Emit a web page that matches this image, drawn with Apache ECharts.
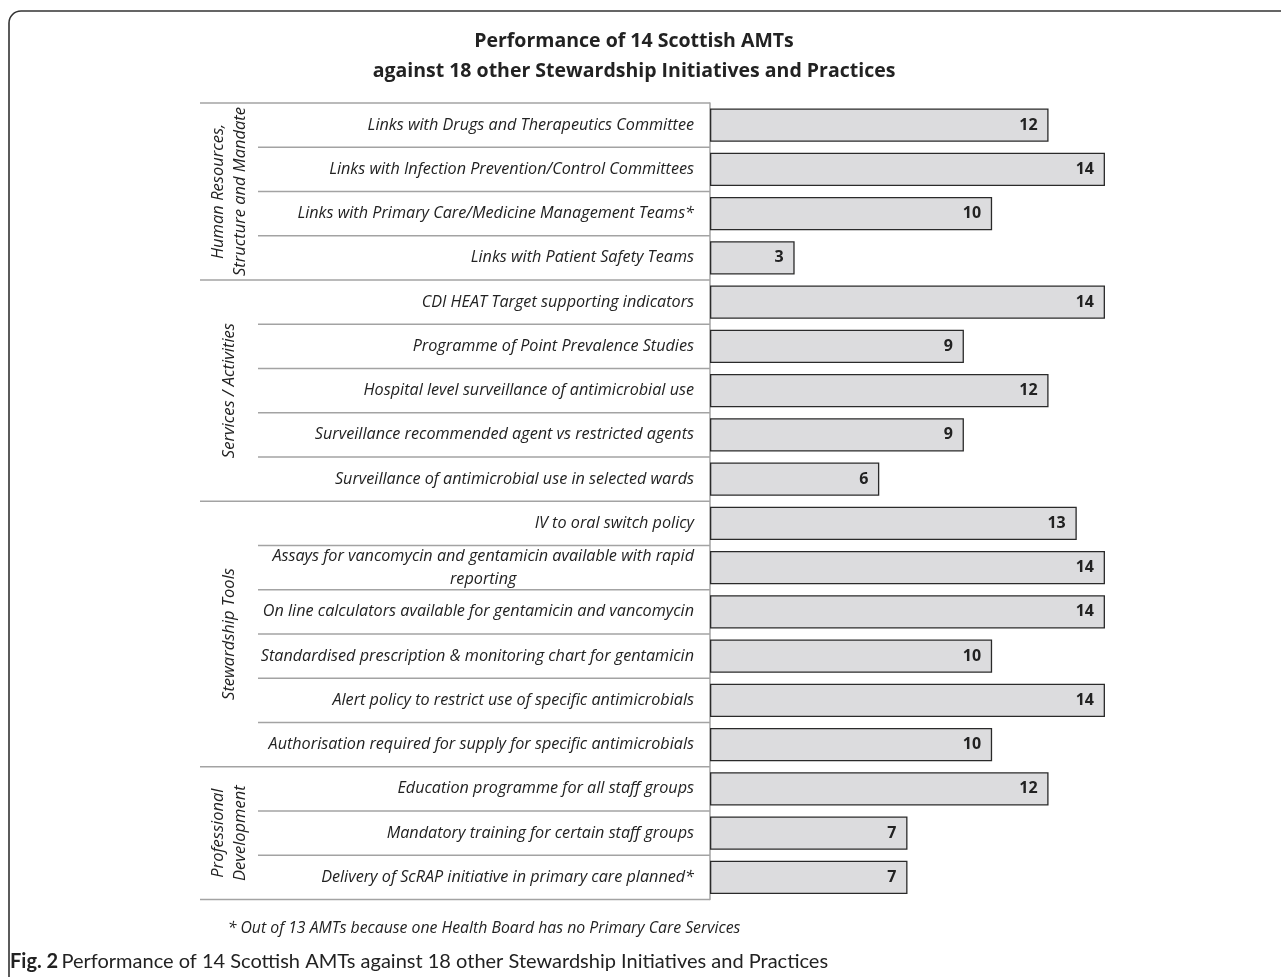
<!DOCTYPE html>
<html><head><meta charset="utf-8">
<script src="https://cdn.jsdelivr.net/npm/echarts@6/dist/echarts.min.js"></script>
<style>html,body{margin:0;padding:0;background:#fff}#c{width:1281px;height:977px}</style>
</head><body><div id="c"></div>
<script>
const categories = [
  'Links with Drugs and Therapeutics Committee',
  'Links with Infection Prevention/Control Committees',
  'Links with Primary Care/Medicine Management Teams*',
  'Links with Patient Safety Teams',
  'CDI HEAT Target supporting indicators',
  'Programme of Point Prevalence Studies',
  'Hospital level surveillance of antimicrobial use',
  'Surveillance recommended agent vs restricted agents',
  'Surveillance of antimicrobial use in selected wards',
  'IV to oral switch policy',
  'Assays for vancomycin and gentamicin available with rapid\nreporting',
  'On line calculators available for gentamicin and vancomycin',
  'Standardised prescription & monitoring chart for gentamicin',
  'Alert policy to restrict use of specific antimicrobials',
  'Authorisation required for supply for specific antimicrobials',
  'Education programme for all staff groups',
  'Mandatory training for certain staff groups',
  'Delivery of ScRAP initiative in primary care planned*'
];
const values = [12, 14, 10, 3, 14, 9, 12, 9, 6, 13, 14, 14, 10, 14, 10, 12, 7, 7];
const groupNames = [
  'Human Resources,\nStructure and Mandate',
  'Services / Activities',
  'Stewardship Tools',
  'Professional\nDevelopment'
];
const groupSizes = [4, 5, 6, 3];
const titleText = 'Performance of 14 Scottish AMTs\nagainst 18 other Stewardship Initiatives and Practices';
const footnote = '* Out of 13 AMTs because one Health Board has no Primary Care Services';
const captionBold = 'Fig. 2';
const captionText = 'Performance of 14 Scottish AMTs against 18 other Stewardship Initiatives and Practices';

const FONT = 'Open Sans';
const CAPFONT = 'Lato';
const LINE = '#a3a3a3';

// group ranges
const groupData = [];
let start = 0;
groupSizes.forEach((n, i) => { groupData.push({ value: [0, start, start + n - 1, i] }); start += n; });
const groupStarts = new Set(groupData.map(g => g.value[1]));
const sepData = categories.map((c, i) => ({ value: [0, i, groupStarts.has(i) ? 1 : 0, 0] }));
sepData.push({ value: [0, categories.length - 1, 1, 1] });

const chart = echarts.init(document.getElementById('c'), null, { renderer: 'canvas' });

const labelStyle = { fontFamily: FONT, fontStyle: 'italic', fontSize: 16.2, color: '#222', lineHeight: 23 };

chart.setOption({
  animation: false,
  backgroundColor: '#fff',
  title: {
    text: titleText,
    left: 629,
    textAlign: 'center',
    top: 21,
    textStyle: { fontFamily: FONT, fontWeight: 'bold', fontSize: 19.5, lineHeight: 30, color: '#222' }
  },
  grid: { left: 710, top: 103, bottom: 77.5, right: 119.6, containLabel: false },
  xAxis: { type: 'value', min: 0, max: 16, show: false },
  yAxis: {
    type: 'category',
    data: categories,
    inverse: true,
    axisTick: { show: false },
    axisLine: { show: true, lineStyle: { color: LINE, width: 1.5 } },
    splitLine: { show: false },
    axisLabel: {
      margin: 16,
      formatter: function (v) {
        const parts = v.split('\n');
        if (parts.length > 1) return '{n|' + parts[0] + '}\n{c|' + parts[1] + '}';
        return '{n|' + v + '}';
      },
      rich: {
        n: Object.assign({ align: 'right' }, labelStyle),
        c: Object.assign({ align: 'center' }, labelStyle)
      }
    }
  },
  series: [
    {
      type: 'bar',
      data: values,
      barCategoryGap: '25%',
      itemStyle: { color: '#dcdcde', borderColor: '#2a2a2a', borderWidth: 1.3 },
      label: {
        show: true, position: 'insideRight', distance: 11,
        fontFamily: FONT, fontWeight: 'bold', fontSize: 16, color: '#222'
      },
      z: 3
    },
    {
      type: 'custom',
      silent: true,
      clip: false,
      data: sepData,
      encode: { x: 0, y: 1 },
      z: 1,
      renderItem: function (params, api) {
        const idx = api.value(1);
        const isGroup = api.value(2) === 1;
        const isBottom = api.value(3) === 1;
        const c = api.coord([0, idx]);
        const h = api.size([0, 1])[1];
        const y = isBottom ? c[1] + h / 2 : c[1] - h / 2;
        const x1 = isGroup ? 200 : 258;
        return {
          type: 'line',
          shape: { x1: x1, y1: y, x2: c[0], y2: y },
          style: { stroke: LINE, lineWidth: 1.5 }
        };
      }
    },
    {
      type: 'custom',
      silent: true,
      clip: false,
      data: groupData,
      encode: { x: 0, y: 1 },
      z: 2,
      renderItem: function (params, api) {
        const s = api.value(1), e = api.value(2), gi = api.value(3);
        const h = api.size([0, 1])[1];
        const y1 = api.coord([0, s])[1] - h / 2;
        const y2 = api.coord([0, e])[1] + h / 2;
        return {
          type: 'text',
          x: 229, y: (y1 + y2) / 2,
          rotation: Math.PI / 2,
          style: {
            text: groupNames[gi],
            align: 'center', verticalAlign: 'middle',
            fontFamily: FONT, fontStyle: 'italic', fontSize: 16.5, lineHeight: 22,
            fill: '#222'
          }
        };
      }
    }
  ],
  graphic: [
    {
      type: 'rect', silent: true, z: -1,
      shape: { x: 9, y: 11, width: 1500, height: 1200, r: 12 },
      style: { fill: 'none', stroke: '#333', lineWidth: 1.6 }
    },
    {
      type: 'text', silent: true,
      x: 484, y: 928,
      style: {
        text: footnote, align: 'center', verticalAlign: 'middle',
        fontFamily: FONT, fontStyle: 'italic', fontSize: 15.8, fill: '#222'
      }
    },
    {
      type: 'text', silent: true,
      x: 10, y: 962,
      style: {
        text: '{b|' + captionBold + '} {r|' + captionText + '}',
        align: 'left', verticalAlign: 'middle',
        rich: {
          b: { fontFamily: CAPFONT, fontWeight: 'bold', fontSize: 20, fill: '#222' },
          r: { fontFamily: CAPFONT, fontSize: 20, fill: '#222' }
        }
      }
    }
  ]
});
</script>
</body></html>
